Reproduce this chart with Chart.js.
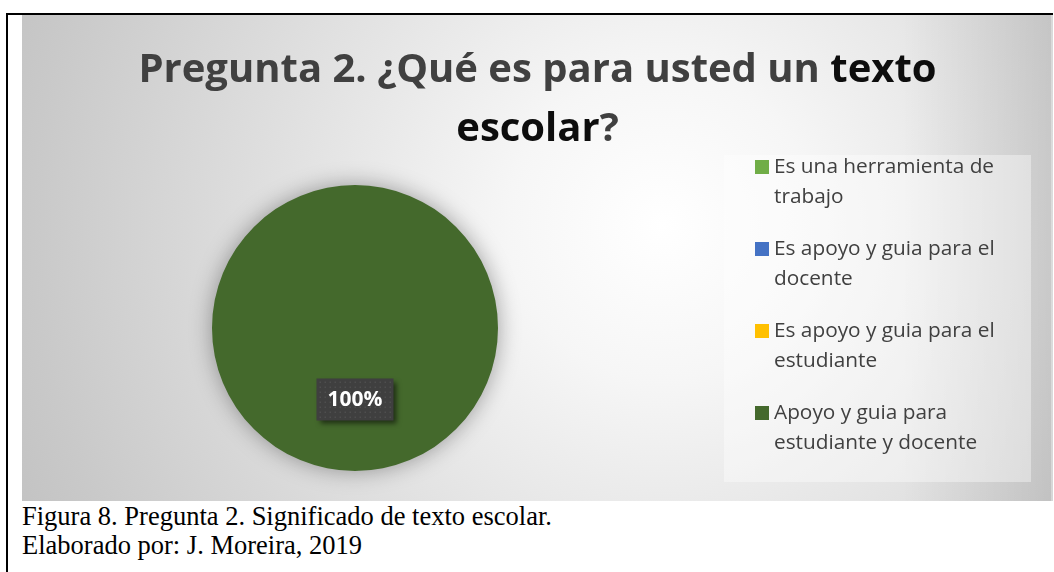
<!DOCTYPE html>
<html>
<head>
<meta charset="utf-8">
<script src="https://cdn.jsdelivr.net/npm/chart.js@4"></script>
<style>
  html, body { margin: 0; padding: 0; background: #fff; }
  body { width: 1054px; height: 572px; position: relative; overflow: hidden; }
  #frame-top { position: absolute; left: 6px; top: 13px; width: 1047px; height: 2px; background: #000; }
  #frame-left { position: absolute; left: 6px; top: 13px; width: 2px; height: 559px; background: #000; }
  #chart-box { position: absolute; left: 22px; top: 15px; width: 1031px; height: 486px; }
  .caption { position: absolute; left: 22px; font-family: "Liberation Serif", "Times New Roman", serif; font-size: 26.5px; line-height: 29px; color: #000; white-space: nowrap; }
</style>
</head>
<body>
<div id="frame-top"></div>
<div id="frame-left"></div>
<div id="chart-box"><canvas id="pieChart"></canvas></div>
<div class="caption" style="top:502px">Figura 8. Pregunta 2. Significado de texto escolar.</div>
<div class="caption" style="top:531px">Elaborado por: J. Moreira, 2019</div>

<script>
// 类别（图例文字，已按原图换行）
const categories = [
    ['Es una herramienta de', 'trabajo'],
    ['Es apoyo y guia para el', 'docente'],
    ['Es apoyo y guia para el', 'estudiante'],
    ['Apoyo y guia para', 'estudiante y docente']
];
// 百分比数值
const percentages = [0, 0, 0, 100];
const sliceColors = ['#70ad47', '#4472c4', '#ffc000', '#44692c'];

// 标题分段（文字 + 颜色）
const titleLine1 = [['Pregunta 2. ¿Qué es para usted un ', '#404040'], ['texto', '#0d0d0d']];
const titleLine2 = [['escolar', '#0d0d0d'], ['?', '#404040']];

const fontSans = '"Open Sans", "Noto Sans", sans-serif';

// 背景：径向渐变 + 图例底框
const backgroundPlugin = {
    id: 'background',
    beforeDraw(chart) {
        const ctx = chart.ctx;
        const w = chart.width, h = chart.height;
        ctx.save();
        const g = ctx.createRadialGradient(640, 210, 0, 640, 210, 700);
        g.addColorStop(0, '#ffffff');
        g.addColorStop(0.22, '#f6f6f6');
        g.addColorStop(0.9, '#c9c9c9');
        g.addColorStop(1, '#c3c3c3');
        ctx.fillStyle = g;
        ctx.fillRect(0, 0, w, h);
        // 右侧加深
        const r = ctx.createLinearGradient(880, 0, w, 0);
        r.addColorStop(0, 'rgba(0,0,0,0)');
        r.addColorStop(1, 'rgba(0,0,0,0.1)');
        ctx.fillStyle = r;
        ctx.fillRect(880, 0, w - 880, h);
        // 图例底框
        ctx.fillStyle = 'rgba(255,255,255,0.38)';
        ctx.fillRect(702, 140, 307, 327);
        ctx.fillStyle = 'rgba(255,255,255,0.35)';
        ctx.fillRect(w - 2, 0, 2, h);
        ctx.restore();
    }
};

// 标题（两种颜色）
const titlePlugin = {
    id: 'mixedTitle',
    afterDraw(chart) {
        const ctx = chart.ctx;
        const cx = chart.width / 2;
        ctx.save();
        ctx.font = 'bold 40px ' + fontSans;
        ctx.textBaseline = 'alphabetic';
        [[titleLine1, 67], [titleLine2, 126]].forEach(([parts, y]) => {
            const total = parts.reduce((s, p) => s + ctx.measureText(p[0]).width, 0);
            let x = cx - total / 2;
            parts.forEach(p => {
                ctx.fillStyle = p[1];
                ctx.textAlign = 'left';
                ctx.fillText(p[0], x, y);
                x += ctx.measureText(p[0]).width;
            });
        });
        ctx.restore();
    }
};

// 图例（多行文字）
const legendPlugin = {
    id: 'wrapLegend',
    afterDraw(chart) {
        const ctx = chart.ctx;
        const colors = chart.data.datasets[0].backgroundColor;
        ctx.save();
        ctx.font = '20.8px ' + fontSans;
        ctx.textBaseline = 'middle';
        ctx.textAlign = 'left';
        chart.data.labels.forEach((lines, i) => {
            const top = 152 + i * 82;
            ctx.fillStyle = colors[i];
            ctx.fillRect(733, top - 7, 14, 14);
            ctx.fillStyle = '#404040';
            lines.forEach((line, j) => {
                ctx.fillText(line, 752, top + j * 30);
            });
        });
        ctx.restore();
    }
};

// 数据标签 100%
const dataLabelPlugin = {
    id: 'sliceLabel',
    afterDatasetsDraw(chart) {
        const ctx = chart.ctx;
        const meta = chart.getDatasetMeta(0);
        meta.data.forEach((arc, i) => {
            const v = percentages[i];
            if (!v) return;
            const pos = arc.tooltipPosition();
            const text = v + '%';
            ctx.save();
            ctx.font = 'bold 21px ' + fontSans;
            const bw = 77, bh = 42;
            const bx = pos.x - bw / 2, by = pos.y - bh / 2;
            ctx.shadowColor = 'rgba(0,0,0,0.55)';
            ctx.shadowBlur = 5;
            ctx.shadowOffsetX = 3;
            ctx.shadowOffsetY = 3;
            ctx.fillStyle = '#3f3f3f';
            ctx.fillRect(bx, by, bw, bh);
            ctx.shadowColor = 'transparent';
            ctx.fillStyle = 'rgba(255,255,255,0.08)';
            for (let yy = by + 3; yy < by + bh; yy += 5) {
                for (let xx = bx + 3; xx < bx + bw; xx += 5) {
                    ctx.fillRect(xx, yy, 1.5, 1.5);
                }
            }
            ctx.fillStyle = '#ffffff';
            ctx.textAlign = 'center';
            ctx.textBaseline = 'middle';
            ctx.fillText(text, pos.x, pos.y + 1);
            ctx.restore();
        });
    }
};

// 饼图阴影
const shadowPlugin = {
    id: 'pieShadow',
    beforeDatasetsDraw(chart) {
        const ctx = chart.ctx;
        ctx.save();
        ctx.shadowColor = 'rgba(0,0,0,0.35)';
        ctx.shadowBlur = 22;
    },
    afterDatasetsDraw(chart) {
        chart.ctx.restore();
    }
};

const ctx = document.getElementById('pieChart').getContext('2d');
new Chart(ctx, {
    type: 'pie',
    data: {
        labels: categories,
        datasets: [{
            data: percentages,
            backgroundColor: sliceColors,
            borderWidth: 0
        }]
    },
    options: {
        responsive: true,
        maintainAspectRatio: false,
        animation: false,
        layout: {
            padding: { left: 190, right: 555, top: 170, bottom: 30 }
        },
        plugins: {
            legend: { display: false },
            title: { display: false },
            tooltip: { enabled: false }
        }
    },
    plugins: [backgroundPlugin, shadowPlugin, titlePlugin, legendPlugin, dataLabelPlugin]
});
</script>
</body>
</html>
